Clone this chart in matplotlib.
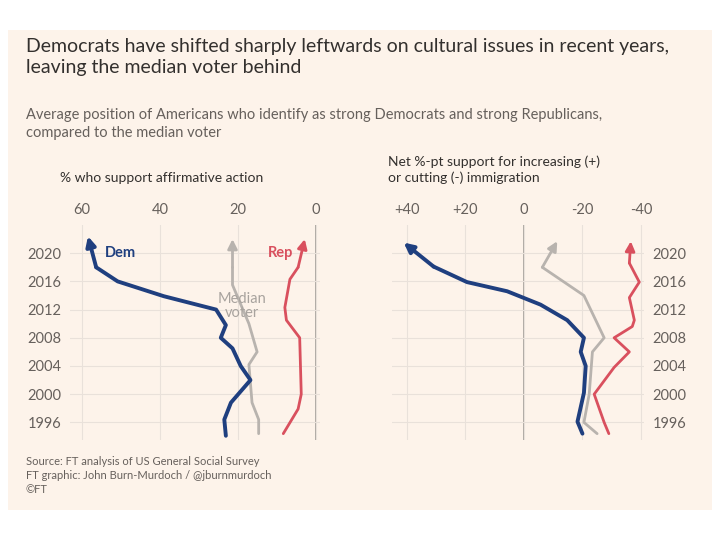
import numpy as np
import matplotlib.pyplot as plt
from matplotlib.patches import Rectangle

plt.rcParams['font.family'] = ['Lato', 'DejaVu Sans']

# affirmative action (% support)
aa_dem_year = [1994.1, 1996.4, 1998.8, 2002, 2004, 2006.5, 2008, 2009.8, 2012, 2013.9, 2016, 2018, 2022.4]
aa_dem = [23.1, 23.5, 21.8, 16.8, 19.3, 21.4, 24.4, 23.1, 25.6, 39, 50.8, 56.3, 58.4]
aa_med_year = [1994.4, 1996.4, 1998.8, 2004.2, 2006, 2010, 2015.5, 2018, 2022]
aa_med = [14.7, 14.7, 16.4, 17.2, 15.1, 17.2, 21.4, 21.4, 21.4]
aa_rep_year = [1994.4, 1997.9, 2000, 2004, 2008, 2010.5, 2012.3, 2016.3, 2018, 2022]
aa_rep = [8.4, 4.6, 3.8, 4.0, 4.2, 7.6, 8.0, 6.7, 4.6, 2.9]

# immigration (net %-pt)
im_dem_year = [1994.4, 1996.1, 2000.2, 2004, 2006, 2008, 2010.5, 2012.7, 2014.6, 2015.9, 2018.1, 2021.5]
im_dem = [-20, -18.3, -20.5, -21.1, -19.4, -20.5, -14.8, -5.7, 5.7, 19.4, 30.8, 41]
im_med_year = [1994.4, 1996, 2000, 2006, 2008, 2014, 2018, 2021.7]
im_med = [-25, -20.5, -22.3, -23.4, -27.4, -20.5, -6.3, -11.4]
im_rep_year = [1994.4, 1996, 2000, 2003.8, 2006, 2008, 2009.6, 2010.5, 2013.7, 2015.9, 2018.6, 2021.7]
im_rep = [-29, -27.4, -24, -30.8, -36, -30.8, -37, -37.7, -36, -39.4, -36, -36.5]

years = [1996, 2000, 2004, 2008, 2012, 2016, 2020]
BG = '#FDF3EA'
DEM, MED, REP = '#1F3F7F', '#B8B3AE', '#D9505E'
TXT = '#33302E'

fig = plt.figure(figsize=(7.2, 5.4), dpi=100)
fig.patch.set_facecolor('white')
fig.patches.append(Rectangle((8 / 720, 30 / 540), 704 / 720, 480 / 540, transform=fig.transFigure,
                             facecolor=BG, edgecolor='none', zorder=-10))

fig.text(26 / 720, 1 - 38 / 540, 'Democrats have shifted sharply leftwards on cultural issues in recent years,\nleaving the median voter behind',
         fontsize=14, color=TXT, va='top', linespacing=1.3)
fig.text(26 / 720, 1 - 108 / 540, 'Average position of Americans who identify as strong Democrats and strong Republicans,\ncompared to the median voter',
         fontsize=10.5, color='#66605C', va='top', linespacing=1.35)
fig.text(26 / 720, 1 - 456 / 540, 'Source: FT analysis of US General Social Survey\nFT graphic: John Burn-Murdoch / @jburnmurdoch\n\u00a9FT',
         fontsize=8, color='#66605C', va='top', linespacing=1.35)


def style(ax, xticks, xlabels, right=False):
    ax.set_facecolor(BG)
    for s in ax.spines.values():
        s.set_visible(False)
    ax.set_ylim(1993.5, 2024)
    ax.set_yticks(years)
    ax.set_xticks(xticks)
    ax.set_xticklabels(xlabels)
    ax.xaxis.tick_top()
    if right:
        ax.yaxis.tick_right()
    ax.tick_params(length=0, labelsize=10.5, labelcolor='#66605C', pad=6)
    ax.grid(True, color='#E9E1DA', lw=0.8)
    ax.axvline(0, color='#A09C98', lw=1.2, zorder=1)


def draw(ax, y, x, c, lw):
    ax.plot(x[:-1], y[:-1], color=c, lw=lw, solid_capstyle='round', solid_joinstyle='round', zorder=3)
    ax.annotate('', xy=(x[-1], y[-1]), xytext=(x[-2], y[-2]),
                arrowprops=dict(arrowstyle='-|>', color=c, lw=lw, mutation_scale=14, shrinkA=0, shrinkB=0), zorder=3)


ax1 = fig.add_axes([70 / 720, 1 - 440 / 540, 250 / 720, 215 / 540])
style(ax1, [60, 40, 20, 0], ['60', '40', '20', '0'])
ax1.set_xlim(63, -1)
draw(ax1, aa_med_year, aa_med, MED, 2)
draw(ax1, aa_rep_year, aa_rep, REP, 2)
draw(ax1, aa_dem_year, aa_dem, DEM, 2.8)
ax1.text(50, 2019.5, 'Dem', color=DEM, fontsize=10.5, fontweight='bold', ha='center')
ax1.text(9, 2019.5, 'Rep', color=REP, fontsize=10.5, fontweight='bold', ha='center')
ax1.text(19, 2011, 'Median\nvoter', color='#A8A39E', fontsize=10.5, ha='center', linespacing=1.0)
fig.text(60 / 720, 1 - 182 / 540, '% who support affirmative action', fontsize=10, color=TXT)

ax2 = fig.add_axes([392 / 720, 1 - 440 / 540, 252 / 720, 215 / 540])
style(ax2, [40, 20, 0, -20, -40], ['+40', '+20', '0', '-20', '-40'], right=True)
ax2.set_xlim(45, -41)
draw(ax2, im_med_year, im_med, MED, 2)
draw(ax2, im_rep_year, im_rep, REP, 2)
draw(ax2, im_dem_year, im_dem, DEM, 2.8)
fig.text(388 / 720, 1 - 182 / 540, 'Net %-pt support for increasing (+)\nor cutting (-) immigration', fontsize=10, color=TXT, linespacing=1.35)

fig.savefig('out.png', dpi=100)
